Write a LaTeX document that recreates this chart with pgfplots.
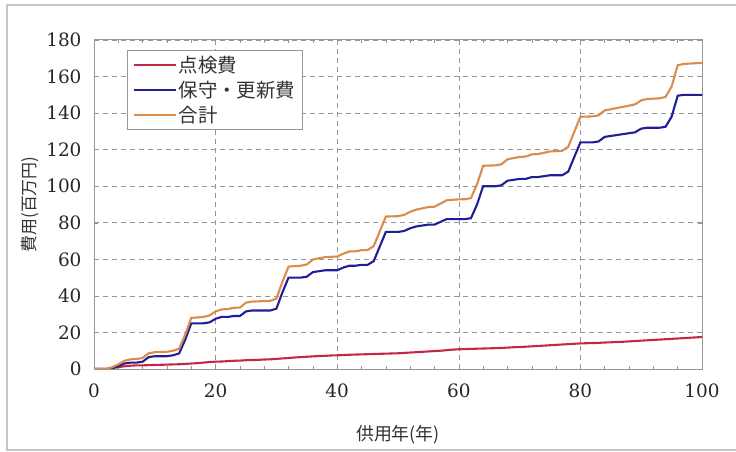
\documentclass[border=0pt]{standalone}
\usepackage{fontspec}
\setmainfont{DejaVu Serif}
\newfontfamily\jp{Noto Sans CJK JP}
\usepackage{pgfplots}
\usepackage{pgfplotstable}
\pgfplotsset{compat=1.18}
\definecolor{cred}{RGB}{196,40,72}
\definecolor{cblue}{RGB}{32,30,150}
\definecolor{corange}{RGB}{218,140,76}
\definecolor{gridgray}{RGB}{150,150,150}

\pgfplotstableread{
yr red blue total
0 0 0 0
1 0 0 0
2 0 0 0
3 0.5 0.5 1
4 1 1.5 2.5
5 1.5 3 4.5
6 1.8 3.5 5.3
7 2 3.5 5.5
8 2 4 6
9 2.1 6.5 8.6
10 2.2 7 9.2
11 2.3 7 9.3
12 2.4 7 9.4
13 2.5 7.5 10
14 2.6 8.5 11.1
15 2.8 16 18.8
16 3 25 28
17 3.2 25 28.2
18 3.5 25 28.5
19 3.8 25.5 29.3
20 4 27.5 31.5
21 4.1 28.5 32.6
22 4.3 28.5 32.8
23 4.5 29 33.5
24 4.6 29 33.6
25 4.8 31.5 36.3
26 4.9 32 36.9
27 5 32 37
28 5.2 32 37.2
29 5.3 32 37.3
30 5.5 33 38.5
31 5.8 42 47.8
32 6 50 56
33 6.3 50 56.3
34 6.5 50 56.5
35 6.7 50.5 57.2
36 6.9 53 59.9
37 7.1 53.5 60.6
38 7.2 54 61.2
39 7.4 54 61.4
40 7.5 54 61.5
41 7.6 55.5 63.1
42 7.8 56.5 64.3
43 7.9 56.5 64.4
44 8 57 65
45 8.1 57 65.1
46 8.2 59 67.2
47 8.3 67 75.3
48 8.4 75 83.4
49 8.5 75 83.5
50 8.6 75 83.6
51 8.8 75.5 84.3
52 9 77 86
53 9.2 78 87.2
54 9.4 78.5 87.9
55 9.6 79 88.6
56 9.8 79 88.8
57 10 80.5 90.5
58 10.3 82 92.3
59 10.6 82 92.6
60 10.8 82 92.8
61 10.9 82 92.9
62 11 82.5 93.5
63 11.1 90 101.1
64 11.2 100 111.2
65 11.3 100 111.3
66 11.4 100 111.4
67 11.5 100.5 112
68 11.7 103 114.7
69 11.9 103.5 115.4
70 12 104 116
71 12.2 104 116.2
72 12.4 105 117.4
73 12.6 105 117.6
74 12.8 105.5 118.3
75 13 106 119
76 13.2 106 119.2
77 13.4 106 119.4
78 13.6 108 121.6
79 13.8 116 129.8
80 14 124 138
81 14.1 124 138.1
82 14.2 124 138.2
83 14.3 124.5 138.8
84 14.5 127 141.5
85 14.6 127.5 142.1
86 14.8 128 142.8
87 14.9 128.5 143.4
88 15.1 129 144.1
89 15.3 129.5 144.8
90 15.5 131.5 147
91 15.7 132 147.7
92 15.9 132 147.9
93 16.1 132 148.1
94 16.3 132.5 148.8
95 16.5 138 154.5
96 16.7 149.5 166.2
97 16.9 150 166.9
98 17.1 150 167.1
99 17.3 150 167.3
100 17.5 150 167.5
}\data

\begin{document}
\begin{tikzpicture}
\path[use as bounding box] (0,0) rectangle (736bp,452bp);
\draw[gray!45, line width=1.5bp] (736bp,447bp) -- (7bp,447bp) -- (7bp,2bp) -- (736bp,2bp);
\begin{axis}[
  at={(94bp,83bp)}, anchor=south west,
  scale only axis, width=608bp, height=329bp,
  xmin=0, xmax=100, ymin=0, ymax=180,
  xtick={0,20,...,100}, ytick={0,20,...,180},
  minor x tick num=4,
  tick align=inside,
  major tick length=4bp, minor tick length=3bp,
  tick style={gridgray, line width=0.5bp},
  axis line style={gridgray, line width=1bp},
  grid=major,
  major grid style={dashed, gridgray, line width=0.6bp, dash pattern=on 5bp off 4bp},
  /pgf/number format/assume math mode=true,
  ticklabel style={font=\fontsize{18.5}{20}\selectfont, text=black!85},
  xticklabel style={yshift=-11bp},
  yticklabel style={xshift=-9bp},
  xlabel={\jp 供用年(年)},
  ylabel={\jp 費用(百万円)},
  xlabel style={font=\fontsize{18}{20}\selectfont, text=black!80, at={(axis description cs:0.5,-0.2)}, anchor=center},
  ylabel style={font=\fontsize{17}{20}\selectfont, text=black!80, at={(axis description cs:-0.105,0.5)}, anchor=center},
  legend cell align=left,
  legend style={at={(axis description cs:0.0543,0.97)}, anchor=north west,
    draw=gridgray, line width=1bp, fill=white,
    font=\jp\fontsize{19.5}{22}\selectfont, text=black!80,
    row sep=3bp, inner xsep=5bp, inner ysep=4bp},
  legend image code/.code={\draw[#1, line width=2.2bp] (0bp,0bp) -- (42bp,0bp);},
]
\addplot[cred, line width=2.1bp] table[x=yr, y=red] {\data};
\addlegendentry{点検費}
\addplot[cblue, line width=2.1bp] table[x=yr, y=blue] {\data};
\addlegendentry{保守・更新費}
\addplot[corange, line width=2.1bp] table[x=yr, y=total] {\data};
\addlegendentry{合計}
\end{axis}
\end{tikzpicture}
\end{document}
